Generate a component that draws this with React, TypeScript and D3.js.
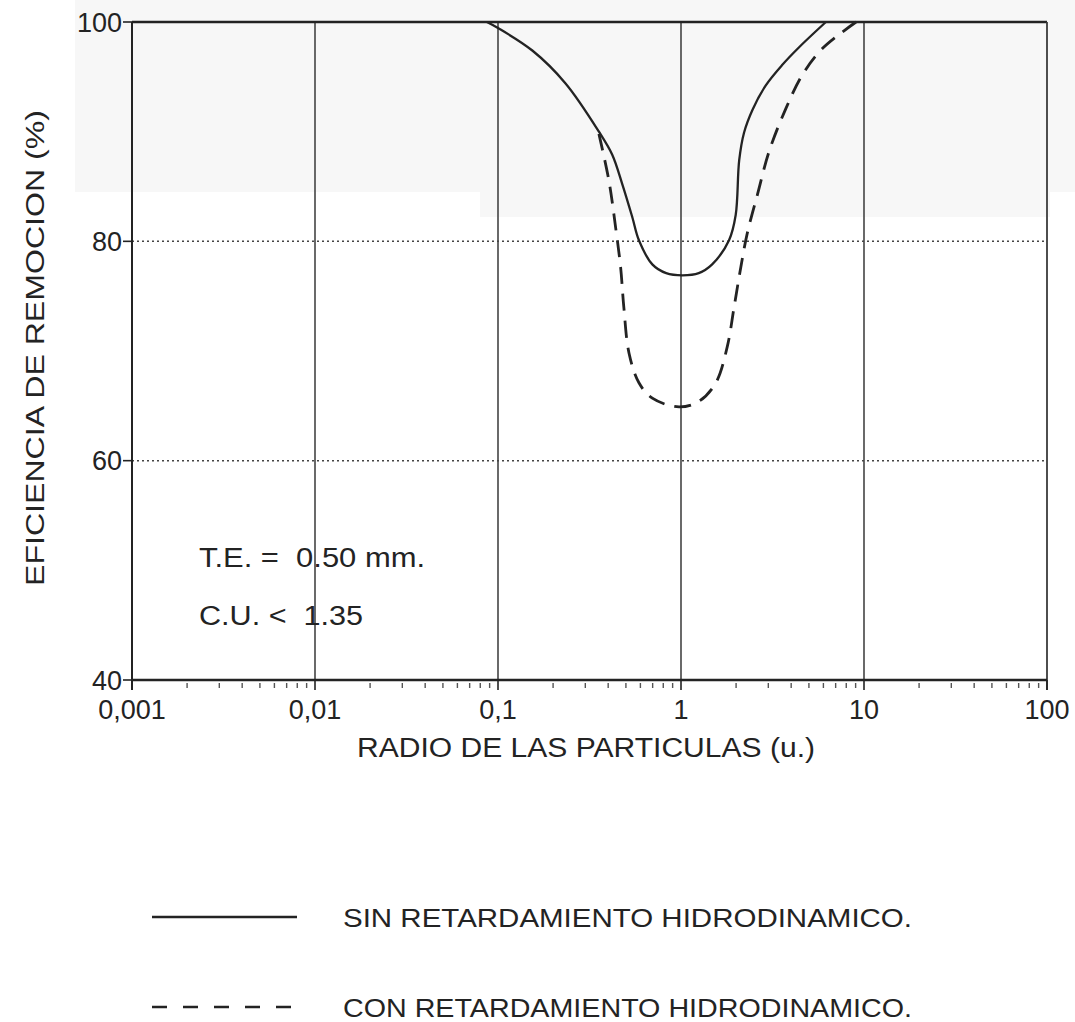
import React from "react";
import * as d3 from "d3";

const xTicks = [0.001, 0.01, 0.1, 1, 10, 100];
const xTickLabels = ["0,001", "0,01", "0,1", "1", "10", "100"];
const yTicks = [40, 60, 80, 100];
const yGridDotted = [60, 80];

const sinRadius = [0.087, 0.1, 0.154, 0.234, 0.356, 0.421, 0.478, 0.542, 0.589, 0.697, 0.83, 1.02, 1.25, 1.48, 1.83, 1.99, 2.08, 2.21, 2.46, 2.9, 3.58, 4.42, 6.19];
const sinEff = [100, 99.45, 97.4, 94.4, 90.0, 87.9, 85.2, 82.2, 80.1, 77.9, 77.1, 76.9, 77.1, 77.9, 80.1, 82.4, 87.4, 89.9, 92.0, 94.2, 96.1, 97.7, 100];

const conRadius = [0.356, 0.404, 0.439, 0.468, 0.487, 0.52, 0.589, 0.697, 0.975, 1.25, 1.55, 1.79, 1.95, 2.12, 2.3, 2.62, 3.03, 3.74, 4.61, 5.94, 9.05];
const conEff = [89.8, 85.5, 81.3, 77.6, 74.0, 69.8, 67.1, 65.7, 64.9, 65.4, 67.1, 70.4, 74.0, 77.6, 80.7, 84.3, 88.2, 92.1, 95.2, 97.6, 100];

const xTitle = "RADIO DE LAS PARTICULAS (u.)";
const yTitle = "EFICIENCIA DE REMOCION (%)";
const note1 = "T.E. =  0.50 mm.";
const note2 = "C.U. <  1.35";
const legendLabels = ["SIN RETARDAMIENTO HIDRODINAMICO.", "CON RETARDAMIENTO HIDRODINAMICO."];

const FONT = "'Liberation Sans', Arial, Helvetica, sans-serif";
const INK = "#232323";

export default function App() {
  const W = 1075, H = 1022;
  const x = d3.scaleLog().domain([0.001, 100]).range([132, 1047]);
  const y = d3.scaleLinear().domain([40, 100]).range([680, 22]);

  const line = d3
    .line<[number, number]>()
    .x((d) => x(d[0]))
    .y((d) => y(d[1]))
    .curve(d3.curveCatmullRom.alpha(0.5));

  const sinData: [number, number][] = sinRadius.map((r, i) => [r, sinEff[i]]);
  const conData: [number, number][] = conRadius.map((r, i) => [r, conEff[i]]);

  const minor: number[] = [];
  for (let e = -3; e < 2; e++) {
    for (let m = 2; m <= 9; m++) minor.push(m * Math.pow(10, e));
  }

  return (
    <svg width={W} height={H} style={{ position: "absolute", left: 0, top: 0, background: "#fff" }} fontFamily={FONT}>
      {/* faint scan shading at top */}
      <rect x={75} y={0} width={1000} height={192} fill="#f7f7f7" />
      <rect x={480} y={192} width={570} height={25} fill="#f7f7f7" />

      {/* vertical decade grid lines */}
      {xTicks.slice(1, -1).map((t) => (
        <line key={"vg" + t} x1={x(t)} x2={x(t)} y1={y(100)} y2={y(40)} stroke="#444" strokeWidth={1.6} />
      ))}
      {/* horizontal dotted grid */}
      {yGridDotted.map((t) => (
        <line key={"hg" + t} x1={x(0.001)} x2={x(100)} y1={y(t)} y2={y(t)} stroke="#444" strokeWidth={1.5} strokeDasharray="2 3" />
      ))}
      {/* frame */}
      <line x1={x(0.001)} x2={x(100)} y1={y(100)} y2={y(100)} stroke={INK} strokeWidth={2.6} />
      <line x1={x(100)} x2={x(100)} y1={y(100)} y2={y(40) + 10} stroke="#3a3a3a" strokeWidth={1.8} />
      <line x1={x(0.001)} x2={x(0.001)} y1={y(100)} y2={y(40) + 10} stroke={INK} strokeWidth={2} />
      <line x1={x(0.001)} x2={x(100)} y1={y(40)} y2={y(40)} stroke={INK} strokeWidth={2.4} />

      {/* y ticks */}
      {yTicks.map((t) => (
        <g key={"yt" + t}>
          <line x1={x(0.001) - 9} x2={x(0.001)} y1={y(t)} y2={y(t)} stroke={INK} strokeWidth={1.6} />
          <text x={x(0.001) - 10} y={y(t)} dy="0.36em" textAnchor="end" fontSize={27} fill={INK}>
            {t}
          </text>
        </g>
      ))}

      {/* x ticks */}
      {xTicks.map((t, i) => (
        <g key={"xt" + t}>
          <line x1={x(t)} x2={x(t)} y1={y(40)} y2={y(40) + 10} stroke={INK} strokeWidth={1.6} />
          <text x={x(t)} y={719} textAnchor="middle" fontSize={27} fill={INK}>
            {xTickLabels[i]}
          </text>
        </g>
      ))}
      {minor.map((t) => (
        <line key={"mt" + t} x1={x(t)} x2={x(t)} y1={y(40) + 3} y2={y(40) + 8} stroke="#555" strokeWidth={1.4} />
      ))}

      {/* curves */}
      <path d={line(conData) || ""} fill="none" stroke={INK} strokeWidth={2.8} strokeDasharray="17 10" />
      <path d={line(sinData) || ""} fill="none" stroke={INK} strokeWidth={2.3} />

      {/* annotations */}
      <text x={199} y={567} fontSize={27} fill={INK} style={{ whiteSpace: "pre" }} textLength={226} lengthAdjust="spacingAndGlyphs">
        {note1}
      </text>
      <text x={199} y={625} fontSize={27} fill={INK} style={{ whiteSpace: "pre" }} textLength={164} lengthAdjust="spacingAndGlyphs">
        {note2}
      </text>

      {/* axis titles */}
      <text x={586} y={757} textAnchor="middle" fontSize={27} fill={INK} textLength={458} lengthAdjust="spacingAndGlyphs">
        {xTitle}
      </text>
      <text
        transform={`translate(44, 348) rotate(-90)`}
        textAnchor="middle"
        fontSize={25}
        fill={INK}
        textLength={476}
        lengthAdjust="spacingAndGlyphs"
      >
        {yTitle}
      </text>

      {/* legend */}
      <line x1={152} x2={297} y1={917} y2={917} stroke={INK} strokeWidth={2.6} />
      <text x={343} y={927} fontSize={26} fill={INK} textLength={569} lengthAdjust="spacingAndGlyphs">
        {legendLabels[0]}
      </text>
      <line x1={152} x2={297} y1={1007} y2={1007} stroke={INK} strokeWidth={2.6} strokeDasharray="15 16" />
      <text x={343} y={1017} fontSize={26} fill={INK} textLength={569} lengthAdjust="spacingAndGlyphs">
        {legendLabels[1]}
      </text>
    </svg>
  );
}
